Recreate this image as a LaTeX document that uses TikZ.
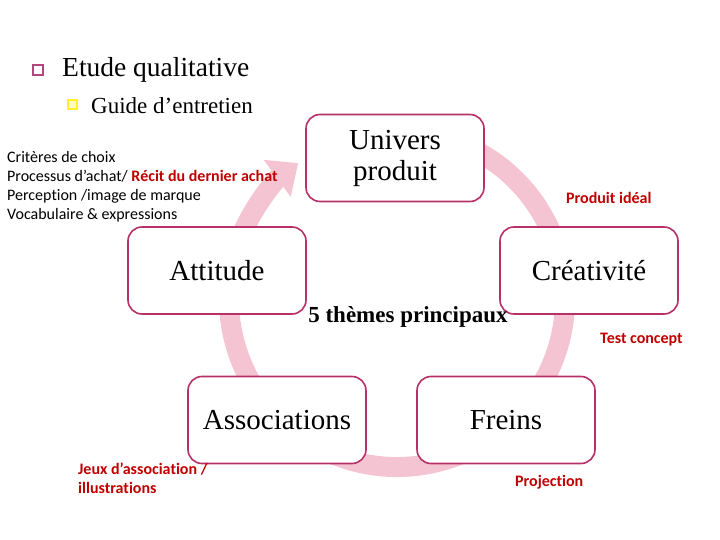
\documentclass[tikz,border=0pt]{standalone}
\usepackage{fontspec}
\setmainfont{Liberation Serif}
\newfontfamily\calib[Ligatures=NoCommon]{Carlito}
\usetikzlibrary{arrows.meta}
\definecolor{ringpink}{RGB}{245,196,210}
\definecolor{boxline}{RGB}{184,48,104}
\definecolor{redtxt}{RGB}{192,0,0}
\definecolor{bulletpink}{RGB}{176,72,128}
\definecolor{bulletyellow}{RGB}{255,240,40}
\tikzset{
  theme/.style={draw=boxline, line width=1.6pt, fill=white, rounded corners=14pt,
    minimum width=178pt, minimum height=87pt, align=center,
    font=\fontsize{29}{31}\selectfont},
  note/.style={font=\calib\fontsize{16}{19}\selectfont, align=left, inner sep=0pt},
  rednote/.style={note, text=redtxt, font=\calib\bfseries\fontsize{16}{19}\selectfont},
  ring/.style={draw=ringpink, line width=20pt, -{Triangle[width=44pt,length=26pt]}}
}
\begin{document}
\begin{tikzpicture}[x=1pt,y=-1pt]
\useasboundingbox (0,0) rectangle (720,540);
% title
\node[draw=bulletpink, line width=1.8pt, fill=white, minimum size=10.5pt, inner sep=0pt] (b1) at (38,70) {};
\node[anchor=west, inner sep=0pt, font=\fontsize{27.5}{30}\selectfont] (title) at (62,70) {Etude qualitative};
\node[draw=bulletyellow, line width=2.4pt, fill=yellow!25, minimum size=8.5pt, inner sep=0pt] (b2) at (72.5,104.5) {};
\node[anchor=west, inner sep=0pt, font=\fontsize{23}{26}\selectfont] (sub) at (91,106) {Guide d’entretien};
% ring
\draw[ring] (397,299) ++(-64:168) arc[start angle=-64, end angle=234, radius=168];
% boxes
\node[theme] (univ) at (395,158) {Univers\\produit};
\node[theme] (crea) at (589,270.5) {Créativité};
\node[theme] (att) at (217,270.5) {Attitude};
\node[theme] (assoc) at (277,420) {Associations};
\node[theme] (frein) at (506,420) {Freins};
\node[font=\bfseries\fontsize{23}{26}\selectfont, inner sep=0pt] (five) at (408,317) {5 thèmes principaux};
% notes
\node[note, anchor=north west] (crit) at (7,151) {Critères de choix\\Processus d’achat/ \textcolor{redtxt}{\bfseries Récit du dernier achat}\\Perception /image de marque\\Vocabulaire \& expressions};
\node[rednote, anchor=west] (pi) at (566,198) {Produit idéal};
\node[rednote, anchor=west] (tc) at (600,340) {Test concept};
\node[rednote, anchor=north west] (jeux) at (78,463) {Jeux d’association /\\illustrations};
\node[rednote, anchor=west] (proj) at (515,482) {Projection};
\end{tikzpicture}
\end{document}
